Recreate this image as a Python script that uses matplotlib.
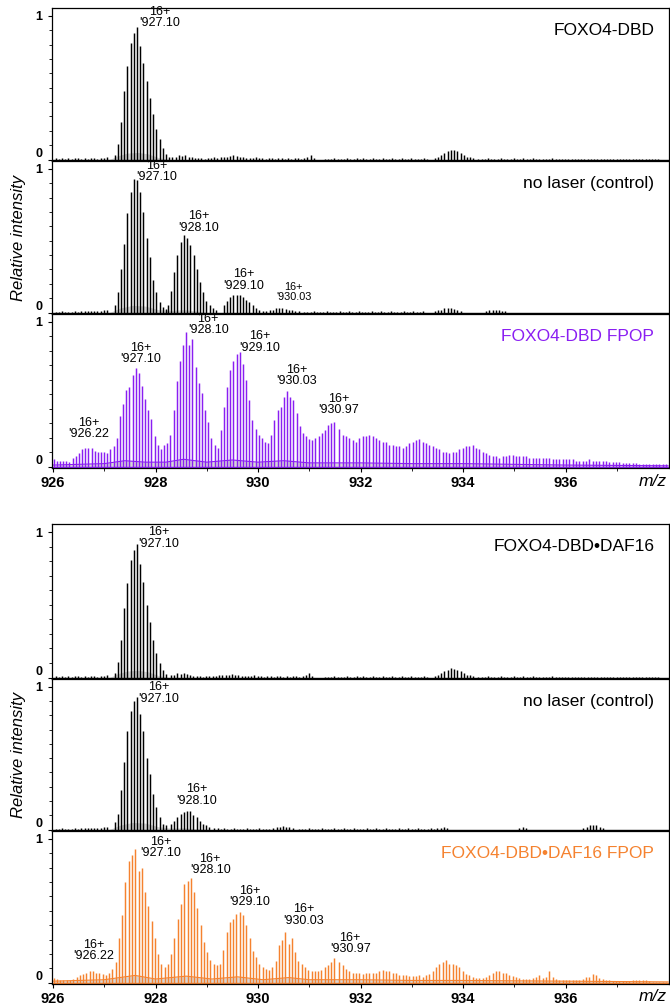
import numpy as np
import matplotlib.pyplot as plt
from matplotlib.ticker import MultipleLocator, FixedLocator

plt.rcParams['font.family'] = ['Liberation Sans', 'DejaVu Sans']

# isotope spacing of the 16+ charge state
ISO_STEP = 1.00335 / 16

PURPLE = '#8a1ef2'
ORANGE = '#f5822f'
HUMP_GRAY = '#d6d6d6'

MZ_MAJOR = [926, 928, 930, 932, 934, 936]
MZ_MINOR = [927, 929, 931, 933, 935, 937]

# ---------------- FOXO4-DBD ----------------
foxo_sticks = [
    (926.05, [0.008, 0.005, 0.01, 0.005, 0.008, 0.005, 0.01, 0.008, 0.005, 0.01,
              0.006, 0.01, 0.008, 0.006, 0.01, 0.012, 0.015]),
    (927.20, [0.03, 0.11, 0.26, 0.48, 0.65, 0.81, 0.88, 0.92, 0.79, 0.67,
              0.55, 0.43, 0.32, 0.21, 0.14, 0.08, 0.04, 0.02]),
    (928.33, [0.015, 0.02, 0.03, 0.025, 0.03, 0.02, 0.015, 0.01, 0.008, 0.01,
              0.006, 0.008, 0.01, 0.015, 0.012, 0.018, 0.02, 0.015, 0.025, 0.03,
              0.025, 0.02, 0.015, 0.01, 0.008, 0.01, 0.015, 0.01, 0.008, 0.006,
              0.01, 0.008, 0.006, 0.008, 0.01, 0.006, 0.008, 0.005, 0.01, 0.008,
              0.006, 0.01, 0.015, 0.03, 0.01]),
    (931.30, [0.005, 0.006, 0.005, 0.008, 0.005, 0.006, 0.005, 0.008, 0.005, 0.006,
              0.01, 0.006, 0.008, 0.005, 0.006, 0.008, 0.006, 0.005, 0.008, 0.006,
              0.005, 0.008, 0.006, 0.005, 0.008, 0.006, 0.005, 0.008, 0.005, 0.006,
              0.005, 0.008, 0.006]),
    (933.45, [0.01, 0.02, 0.035, 0.045, 0.06, 0.07, 0.065, 0.06, 0.045, 0.035,
              0.02, 0.015, 0.01]),
    (934.30, [0.005, 0.006, 0.005, 0.008, 0.005, 0.006, 0.005, 0.008, 0.005, 0.006,
              0.005, 0.008, 0.006, 0.005, 0.008, 0.006, 0.005, 0.008, 0.005, 0.006,
              0.005, 0.006, 0.005, 0.008, 0.005, 0.006, 0.005, 0.006, 0.005, 0.006,
              0.005, 0.006, 0.005, 0.006, 0.005, 0.006, 0.005, 0.006, 0.005, 0.006,
              0.005, 0.006, 0.005, 0.005, 0.005, 0.005, 0.005, 0.005, 0.005, 0.005,
              0.005, 0.005, 0.005, 0.005, 0.005, 0.005, 0.005]),
]
foxo_hump_mz = [927.10, 927.25, 927.45, 927.65, 927.85, 928.05, 928.25]
foxo_hump_h = [0.0, 0.025, 0.045, 0.05, 0.04, 0.015, 0.0]
foxo_labels = ['927.10']
foxo_label_mz = [927.68]
foxo_label_y = [0.91]

# ---------------- FOXO4-DBD, no laser ----------------
ctrl_sticks = [
    (926.05, [0.005, 0.005, 0.008, 0.005, 0.006, 0.005, 0.008, 0.005, 0.01, 0.008,
              0.01, 0.008, 0.01, 0.012, 0.01, 0.015, 0.02]),
    (927.20, [0.05, 0.14, 0.30, 0.48, 0.69, 0.84, 0.93, 0.92, 0.84, 0.70,
              0.52, 0.39, 0.23, 0.14, 0.07, 0.04, 0.025]),
    (928.24, [0.05, 0.15, 0.28, 0.40, 0.49, 0.54, 0.52, 0.47, 0.40, 0.30,
              0.21, 0.14, 0.08, 0.05, 0.03, 0.02]),
    (929.33, [0.05, 0.08, 0.11, 0.12, 0.12, 0.12, 0.11, 0.09, 0.07, 0.05,
              0.03, 0.02]),
    (930.10, [0.008, 0.01, 0.015, 0.02, 0.03, 0.035, 0.03, 0.025, 0.02, 0.015,
              0.01, 0.008]),
    (930.90, [0.005, 0.006, 0.005, 0.008, 0.005, 0.006, 0.005, 0.008, 0.005, 0.006,
              0.005, 0.008, 0.006, 0.005, 0.008, 0.006, 0.005, 0.008, 0.005, 0.006,
              0.005, 0.008, 0.006, 0.005, 0.008, 0.006, 0.005, 0.008, 0.005, 0.006,
              0.005, 0.008, 0.006, 0.005, 0.008, 0.006, 0.005, 0.008]),
    (933.45, [0.01, 0.015, 0.02, 0.03, 0.035, 0.03, 0.025, 0.02, 0.01]),
    (934.45, [0.01, 0.015, 0.02, 0.02, 0.015, 0.01, 0.01]),
]
ctrl_hump_mz = [927.10, 927.30, 927.55, 927.80, 928.05, 928.30, 928.55, 928.80, 929.00]
ctrl_hump_h = [0.0, 0.03, 0.05, 0.045, 0.02, 0.015, 0.02, 0.01, 0.0]
ctrl_labels = ['927.10', '928.10', '929.10', '930.03']
ctrl_label_mz = [927.62, 928.44, 929.32, 930.35]
ctrl_label_y = [0.90, 0.55, 0.146, 0.076]
ctrl_label_size = [9, 9, 9, 7.8]

# ---------------- FOXO4-DBD FPOP ----------------
fpop_sticks = [
    (926.013, 931.49, [
        0.05, 0.04, 0.04, 0.04, 0.035, 0.03, 0.06, 0.07, 0.09, 0.12,
        0.13, 0.13, 0.13, 0.11, 0.10, 0.10, 0.10, 0.09, 0.12, 0.14,
        0.20, 0.35, 0.43, 0.53, 0.55, 0.63, 0.68, 0.65, 0.56, 0.47,
        0.39, 0.33, 0.21, 0.15, 0.12, 0.15, 0.16, 0.22, 0.39, 0.59,
        0.73, 0.84, 0.93, 0.84, 0.88, 0.69, 0.58, 0.51, 0.39, 0.31,
        0.20, 0.15, 0.13, 0.25, 0.41, 0.55, 0.67, 0.73, 0.78, 0.79,
        0.71, 0.60, 0.46, 0.32, 0.26, 0.22, 0.20, 0.17, 0.16, 0.22,
        0.32, 0.39, 0.41, 0.48, 0.52, 0.48, 0.46, 0.37, 0.28, 0.23,
        0.21, 0.19, 0.18, 0.20, 0.21, 0.23, 0.25, 0.29, 0.30, 0.31]),
    (931.585, 937.96, [
        0.26, 0.22, 0.21, 0.20, 0.18, 0.17, 0.20, 0.21, 0.21,
        0.22, 0.21, 0.20, 0.18, 0.17, 0.17, 0.15, 0.15, 0.14, 0.14,
        0.13, 0.14, 0.16, 0.17, 0.18, 0.19, 0.17, 0.16, 0.15, 0.14,
        0.13, 0.12, 0.10, 0.10, 0.09, 0.10, 0.10, 0.12, 0.13, 0.14,
        0.14, 0.15, 0.13, 0.12, 0.10, 0.09, 0.08, 0.07, 0.07, 0.06,
        0.07, 0.07, 0.08, 0.08, 0.07, 0.07, 0.07, 0.07, 0.06, 0.06,
        0.06, 0.06, 0.06, 0.06, 0.06, 0.05, 0.05, 0.05, 0.05, 0.05,
        0.05, 0.05, 0.04, 0.04, 0.04, 0.04, 0.05, 0.04, 0.04, 0.035,
        0.035, 0.035, 0.03, 0.03, 0.03, 0.03, 0.025, 0.025, 0.025, 0.025,
        0.025, 0.02, 0.02, 0.02, 0.02, 0.02, 0.015, 0.015, 0.015, 0.015]),
]
fpop_hump_mz = [926.0, 926.5, 927.0, 927.4, 927.8, 928.2, 928.55, 929.0, 929.5,
                930.0, 930.5, 931.0, 932.0, 933.0, 934.0, 936.0, 938.0]
fpop_hump_h = [0.01, 0.015, 0.02, 0.04, 0.03, 0.03, 0.05, 0.03, 0.045,
               0.03, 0.04, 0.025, 0.025, 0.02, 0.02, 0.01, 0.005]
fpop_labels = ['926.22', '927.10', '928.10', '929.10', '930.03', '930.97']
fpop_label_mz = [926.29, 927.31, 928.63, 929.63, 930.35, 931.17]
fpop_label_y = [0.18, 0.70, 0.90, 0.78, 0.55, 0.35]

# ---------------- FOXO4-DBD•DAF16 ----------------
daf_sticks = [
    (926.05, [0.008, 0.005, 0.01, 0.005, 0.008, 0.005, 0.01, 0.008, 0.005, 0.01,
              0.006, 0.01, 0.008, 0.006, 0.01, 0.012, 0.015]),
    (927.20, [0.03, 0.11, 0.26, 0.48, 0.65, 0.81, 0.88, 0.92, 0.78, 0.66,
              0.50, 0.38, 0.26, 0.17, 0.10, 0.05, 0.025]),
    (928.30, [0.015, 0.02, 0.03, 0.025, 0.03, 0.025, 0.015, 0.01, 0.008, 0.01,
              0.006, 0.008, 0.01, 0.012, 0.012, 0.015, 0.018, 0.015, 0.02, 0.025,
              0.02, 0.015, 0.012, 0.01, 0.008, 0.01, 0.015, 0.01, 0.008, 0.006,
              0.01, 0.008, 0.006, 0.008, 0.01, 0.006, 0.008, 0.005, 0.01, 0.008,
              0.006, 0.01, 0.015, 0.03, 0.01]),
    (931.30, [0.005, 0.006, 0.005, 0.008, 0.005, 0.006, 0.005, 0.008, 0.005, 0.006,
              0.01, 0.006, 0.008, 0.005, 0.006, 0.008, 0.006, 0.005, 0.008, 0.006,
              0.005, 0.008, 0.006, 0.005, 0.008, 0.006, 0.005, 0.008, 0.005, 0.006,
              0.005, 0.008, 0.006]),
    (933.45, [0.01, 0.02, 0.03, 0.045, 0.055, 0.065, 0.06, 0.055, 0.045, 0.03,
              0.02, 0.015, 0.01]),
    (934.30, [0.005, 0.006, 0.005, 0.008, 0.005, 0.006, 0.005, 0.008, 0.005, 0.006,
              0.005, 0.008, 0.006, 0.005, 0.008, 0.006, 0.005, 0.008, 0.005, 0.006,
              0.005, 0.006, 0.005, 0.008, 0.005, 0.006, 0.005, 0.006, 0.005, 0.006,
              0.005, 0.006, 0.005, 0.006, 0.005, 0.006, 0.005, 0.006, 0.005, 0.006,
              0.005, 0.006, 0.005, 0.005, 0.005, 0.005, 0.005, 0.005, 0.005, 0.005,
              0.005, 0.005, 0.005, 0.005, 0.005, 0.005, 0.005]),
]
daf_hump_mz = [927.10, 927.25, 927.45, 927.65, 927.85, 928.05, 928.25]
daf_hump_h = [0.0, 0.025, 0.045, 0.05, 0.04, 0.015, 0.0]
daf_labels = ['927.10']
daf_label_mz = [927.66]
daf_label_y = [0.88]

# ---------------- FOXO4-DBD•DAF16, no laser ----------------
daf_ctrl_sticks = [
    (926.05, [0.005, 0.005, 0.008, 0.005, 0.006, 0.005, 0.008, 0.005, 0.01, 0.008,
              0.01, 0.008, 0.01, 0.012, 0.01, 0.015, 0.02]),
    (927.20, [0.05, 0.11, 0.28, 0.47, 0.69, 0.83, 0.90, 0.93, 0.81, 0.69,
              0.50, 0.39, 0.25, 0.16, 0.09, 0.04, 0.03]),
    (928.30, [0.04, 0.06, 0.09, 0.11, 0.12, 0.13, 0.13, 0.10, 0.09, 0.06,
              0.04, 0.03, 0.02]),
    (929.15, [0.01, 0.008, 0.006, 0.008, 0.005, 0.006, 0.008, 0.005, 0.006, 0.005,
              0.008, 0.005, 0.006, 0.005, 0.008, 0.005, 0.006, 0.005]),
    (930.30, [0.01, 0.015, 0.02, 0.025, 0.02, 0.015, 0.01]),
    (930.80, [0.005, 0.006, 0.005, 0.008, 0.005, 0.006, 0.005, 0.008, 0.005, 0.006,
              0.005, 0.008, 0.006, 0.005, 0.008, 0.006, 0.005, 0.008, 0.005, 0.006,
              0.005, 0.008, 0.006, 0.005, 0.008, 0.006, 0.005, 0.008, 0.005, 0.006,
              0.005, 0.008, 0.006, 0.005, 0.008, 0.006, 0.005, 0.008, 0.005, 0.006,
              0.005, 0.008, 0.005]),
    (933.50, [0.01, 0.012, 0.015, 0.01]),
    (935.10, [0.01, 0.015, 0.01]),
    (936.35, [0.01, 0.02, 0.03, 0.035, 0.03, 0.02, 0.01]),
]
daf_ctrl_hump_mz = [927.10, 927.30, 927.55, 927.80, 928.05, 928.30, 928.55, 928.80, 929.00]
daf_ctrl_hump_h = [0.0, 0.03, 0.05, 0.045, 0.02, 0.01, 0.012, 0.005, 0.0]
daf_ctrl_labels = ['927.10', '928.10']
daf_ctrl_label_mz = [927.66, 928.40]
daf_ctrl_label_y = [0.875, 0.16]

# ---------------- FOXO4-DBD•DAF16 FPOP ----------------
daf_fpop_sticks = [
    (926.013, 931.49, [
        0.03, 0.025, 0.02, 0.02, 0.015, 0.02, 0.025, 0.04, 0.05, 0.06,
        0.07, 0.08, 0.08, 0.07, 0.065, 0.06, 0.055, 0.065, 0.095, 0.14,
        0.31, 0.47, 0.70, 0.85, 0.89, 0.93, 0.78, 0.80, 0.63, 0.53,
        0.43, 0.31, 0.20, 0.13, 0.11, 0.13, 0.20, 0.31, 0.44, 0.55,
        0.69, 0.71, 0.73, 0.63, 0.52, 0.40, 0.28, 0.21, 0.16, 0.13,
        0.12, 0.13, 0.23, 0.35, 0.42, 0.44, 0.48, 0.49, 0.47, 0.40,
        0.31, 0.22, 0.18, 0.13, 0.11, 0.095, 0.09, 0.11, 0.15, 0.26,
        0.30, 0.35, 0.27, 0.31, 0.21, 0.15, 0.13, 0.11, 0.09, 0.08,
        0.08, 0.08, 0.09, 0.11, 0.125, 0.14, 0.17]),
    (931.585, 937.96, [
        0.14, 0.12, 0.095, 0.08, 0.07, 0.065, 0.07, 0.06, 0.065,
        0.07, 0.065, 0.07, 0.08, 0.09, 0.08, 0.08, 0.07, 0.065, 0.055,
        0.05, 0.05, 0.045, 0.045, 0.045, 0.05, 0.04, 0.05, 0.06, 0.08,
        0.11, 0.13, 0.14, 0.16, 0.13, 0.13, 0.12, 0.11, 0.08, 0.06,
        0.05, 0.04, 0.03, 0.03, 0.03, 0.04, 0.05, 0.07, 0.08, 0.08,
        0.07, 0.065, 0.055, 0.045, 0.04, 0.03, 0.025, 0.025, 0.025, 0.03,
        0.04, 0.05, 0.03, 0.04, 0.08, 0.04, 0.025, 0.02, 0.02, 0.015,
        0.015, 0.015, 0.015, 0.02, 0.025, 0.04, 0.04, 0.06, 0.05, 0.03,
        0.025, 0.02, 0.015, 0.01, 0.01, 0.01, 0.01, 0.01, 0.01, 0.015,
        0.015, 0.015, 0.015, 0.02, 0.01, 0.005, 0.005, 0.005, 0.005, 0.005]),
]
daf_fpop_hump_mz = [926.0, 926.5, 927.0, 927.3, 927.6, 928.0, 928.6, 929.1, 929.6,
                    930.1, 930.6, 931.0, 932.0, 933.0, 934.0, 936.0, 938.0]
daf_fpop_hump_h = [0.01, 0.015, 0.02, 0.035, 0.05, 0.025, 0.045, 0.025, 0.04,
                   0.02, 0.035, 0.02, 0.02, 0.015, 0.015, 0.01, 0.005]
daf_fpop_labels = ['926.22', '927.10', '928.10', '929.10', '930.03', '930.97']
daf_fpop_label_mz = [926.39, 927.70, 928.67, 929.44, 930.49, 931.40]
daf_fpop_label_y = [0.14, 0.86, 0.74, 0.52, 0.39, 0.19]


def stick_positions(seg):
    # two-item segments run on the isotope grid, three-item ones span start..stop
    if len(seg) == 2:
        start, vals = seg
        return start + ISO_STEP * np.arange(len(vals)), vals
    start, stop, vals = seg
    return np.linspace(start, stop, len(vals)), vals


def draw_panel(ax, sticks, hump_mz, hump_h, color, title, title_color,
               labels, label_mz, label_y, label_size=None, fpop=False):
    ax.fill_between(hump_mz, 0, hump_h, color=HUMP_GRAY, lw=0, zorder=1)
    for seg in sticks:
        mz, vals = stick_positions(seg)
        ax.vlines(mz, 0, vals, color=color, lw=1.05, zorder=2)
    if fpop:
        ax.plot(hump_mz, hump_h, color=color, lw=0.8, zorder=2)
    ax.axhline(0, color=color, lw=1.0, zorder=2)

    if label_size is None:
        label_size = [9] * len(labels)
    for lab, x, y, fs in zip(labels, label_mz, label_y, label_size):
        ax.text(x, y, "16+\n'" + lab, ha='left', va='bottom', multialignment='center',
                fontsize=fs, linespacing=0.92, zorder=3)

    ax.text(0.976, 0.853, title, transform=ax.transAxes, ha='right', va='center',
            fontsize=12.5, color=title_color)

    ax.set_xlim(925.98, 938.02)
    ax.set_ylim(-0.01, 1.055)
    ax.set_yticks([0, 1])
    ax.set_yticklabels(['0', '1'], fontweight='bold', fontsize=9)
    ax.get_yticklabels()[0].set_va('bottom')
    ax.yaxis.set_minor_locator(MultipleLocator(0.1))
    ax.tick_params(axis='y', which='major', length=3, width=0.8, pad=4)
    ax.tick_params(axis='y', which='minor', length=2, width=0.6)
    ax.xaxis.set_major_locator(FixedLocator(MZ_MAJOR))
    ax.xaxis.set_minor_locator(FixedLocator(MZ_MINOR))
    ax.tick_params(axis='x', which='major', length=3, width=0.8, pad=3,
                   labelsize=10.5)
    ax.tick_params(axis='x', which='minor', length=2, width=0.6)
    for sp in ax.spines.values():
        sp.set_linewidth(0.9)


fig = plt.figure(figsize=(6.7, 10.07), dpi=100)
left, width = 0.0776, 0.921

ax1 = fig.add_axes([left, 0.8401, width, 0.1519])
ax2 = fig.add_axes([left, 0.6882, width, 0.1519])
ax3 = fig.add_axes([left, 0.5353, width, 0.1529])
ax4 = fig.add_axes([left, 0.3257, width, 0.1539])
ax5 = fig.add_axes([left, 0.1748, width, 0.1509])
ax6 = fig.add_axes([left, 0.0228, width, 0.1519])

draw_panel(ax1, foxo_sticks, foxo_hump_mz, foxo_hump_h, 'black', 'FOXO4-DBD', 'black',
           foxo_labels, foxo_label_mz, foxo_label_y)
draw_panel(ax2, ctrl_sticks, ctrl_hump_mz, ctrl_hump_h, 'black', 'no laser (control)',
           'black', ctrl_labels, ctrl_label_mz, ctrl_label_y, ctrl_label_size)
draw_panel(ax3, fpop_sticks, fpop_hump_mz, fpop_hump_h, PURPLE, 'FOXO4-DBD FPOP', PURPLE,
           fpop_labels, fpop_label_mz, fpop_label_y, fpop=True)
draw_panel(ax4, daf_sticks, daf_hump_mz, daf_hump_h, 'black', 'FOXO4-DBD\u2022DAF16',
           'black', daf_labels, daf_label_mz, daf_label_y)
draw_panel(ax5, daf_ctrl_sticks, daf_ctrl_hump_mz, daf_ctrl_hump_h, 'black',
           'no laser (control)', 'black', daf_ctrl_labels, daf_ctrl_label_mz,
           daf_ctrl_label_y)
draw_panel(ax6, daf_fpop_sticks, daf_fpop_hump_mz, daf_fpop_hump_h, ORANGE,
           'FOXO4-DBD\u2022DAF16 FPOP', ORANGE, daf_fpop_labels, daf_fpop_label_mz,
           daf_fpop_label_y, fpop=True)

for ax in (ax1, ax2, ax4, ax5):
    ax.tick_params(axis='x', which='both', bottom=False, labelbottom=False)
for ax in (ax3, ax6):
    for t in ax.get_xticklabels():
        t.set_fontweight('bold')

fig.text(0.027, 0.764, 'Relative intensity', rotation=90, ha='center', va='center',
         fontsize=12, style='italic')
fig.text(0.027, 0.250, 'Relative intensity', rotation=90, ha='center', va='center',
         fontsize=12, style='italic')
fig.text(0.995, 0.5223, 'm/z', ha='right', va='center', fontsize=12.5, style='italic')
fig.text(0.995, 0.0105, 'm/z', ha='right', va='center', fontsize=12.5, style='italic')

fig.savefig('out.png', dpi=100)
